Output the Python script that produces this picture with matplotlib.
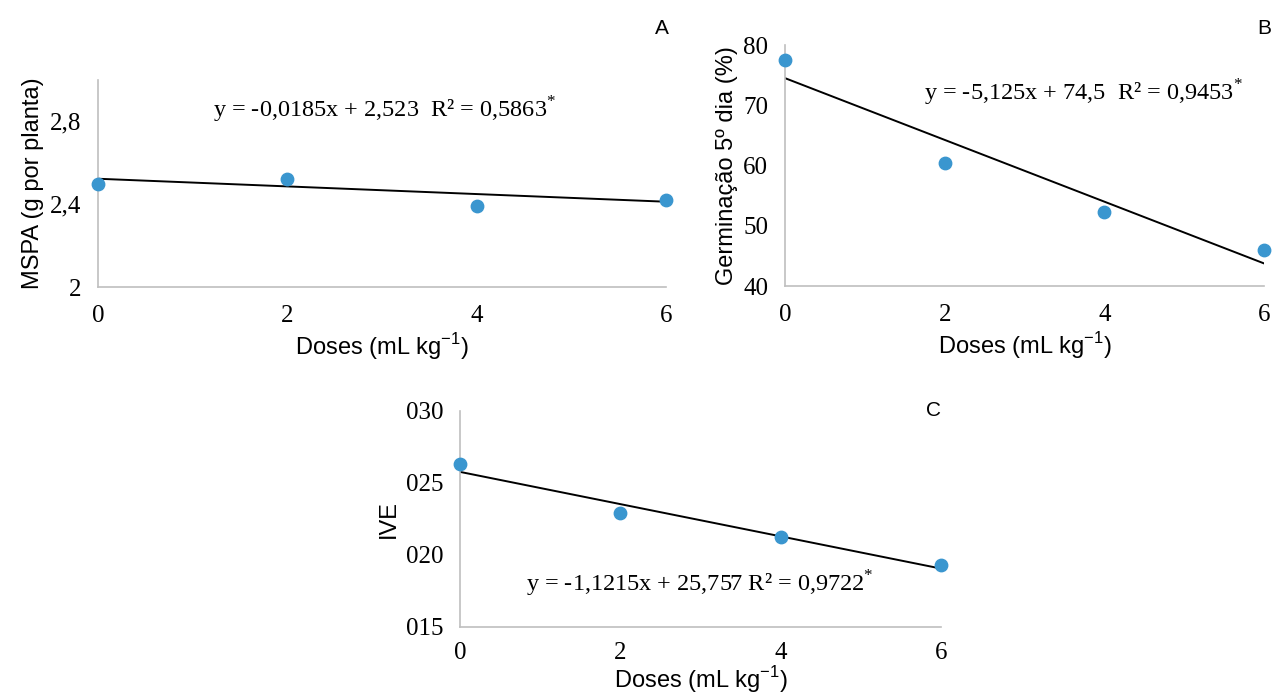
import numpy as np
import matplotlib
matplotlib.use("Agg")
import matplotlib.pyplot as plt

plt.rcParams['mathtext.fontset'] = 'custom'
plt.rcParams['mathtext.rm'] = 'Liberation Serif'
plt.rcParams['mathtext.sf'] = 'Liberation Sans'

doses = [0, 2, 4, 6]
mspa = [2.50, 2.52, 2.39, 2.42]
germinacao = [77.5, 60.5, 52.3, 46.0]
ive = [26.3, 22.9, 21.2, 19.3]

# coeficientes das equacoes (slope, intercept)
coef_a = (-0.0185, 2.523)
coef_b = (-5.125, 74.5)
coef_c = (-1.1215, 25.757)

eq_a = r'y = -0,0185x + 2,523  R² = 0,5863$^{\mathrm{*}}$'
eq_b = r'y = -5,125x + 74,5  R² = 0,9453$^{\mathrm{*}}$'
eq_c = r'y = -1,1215x + 25,757 R² = 0,9722$^{\mathrm{*}}$'

xlabel = r'Doses (mL kg$^{\mathsf{-1}}$)'

BLUE = '#3a96cf'
GRAY = '#bfbfbf'
SERIF = 'Liberation Serif'
SANS = 'Liberation Sans'

fig = plt.figure(figsize=(12.74, 7.0), dpi=100)

ax_a = fig.add_axes([0.0769, 0.590, 0.4459, 0.2957])
ax_b = fig.add_axes([0.6162, 0.5914, 0.3760, 0.3443])
ax_c = fig.add_axes([0.3611, 0.1050, 0.3776, 0.3080])


def style(ax, y, coef, ylim, yticks, ylabels, ylab, eq, eq_pos, letter,
          letter_pos, xpad=13, xlabelpad=3):
    ax.scatter(doses, y, s=80, color=BLUE, zorder=3, clip_on=False)
    xs = np.array([doses[0], doses[-1]])
    ax.plot(xs, coef[0] * xs + coef[1], color='black', lw=1.4, zorder=2)
    ax.set_xlim(0, 6)
    ax.set_ylim(*ylim)
    ax.set_xticks(doses)
    ax.set_xticklabels([str(d) for d in doses], fontfamily=SERIF, fontsize=18)
    ax.set_yticks(yticks)
    ax.set_yticklabels(ylabels, fontfamily=SERIF, fontsize=18)
    ax.tick_params(length=0)
    ax.tick_params(axis='x', pad=xpad)
    ax.tick_params(axis='y', pad=12)
    for s in ['top', 'right']:
        ax.spines[s].set_visible(False)
    for s in ['left', 'bottom']:
        ax.spines[s].set_color(GRAY)
        ax.spines[s].set_linewidth(1.2)
    ax.set_xlabel(xlabel, fontfamily=SANS, fontsize=17, labelpad=xlabelpad)
    ax.set_ylabel(ylab, fontfamily=SANS, fontsize=17, labelpad=4)
    ax.text(eq_pos[0], eq_pos[1], eq, transform=ax.transAxes, ha='center',
            va='center', fontfamily=SERIF, fontsize=17.5)
    ax.text(letter_pos[0], letter_pos[1], letter, transform=ax.transAxes,
            ha='center', va='center', fontfamily=SANS, fontsize=15)


style(ax_a, mspa, coef_a, (2, 3), [2, 2.4, 2.8], ['2', '2,4', '2,8'],
      'MSPA (g por planta)', eq_a, (0.505, 0.855), 'A', (0.993, 1.25))
style(ax_b, germinacao, coef_b, (40, 80), [40, 50, 60, 70, 80],
      ['40', '50', '60', '70', '80'], 'Germinação 5º dia (%)', eq_b,
      (0.624, 0.80), 'B', (1.0, 1.07))
style(ax_c, ive, coef_c, (15, 30), [15, 20, 25, 30],
      ['015', '020', '025', '030'], 'IVE', eq_c, (0.499, 0.198), 'C',
      (0.985, 1.0), xpad=11, xlabelpad=0)

fig.savefig('out.png', dpi=100, facecolor='white')
